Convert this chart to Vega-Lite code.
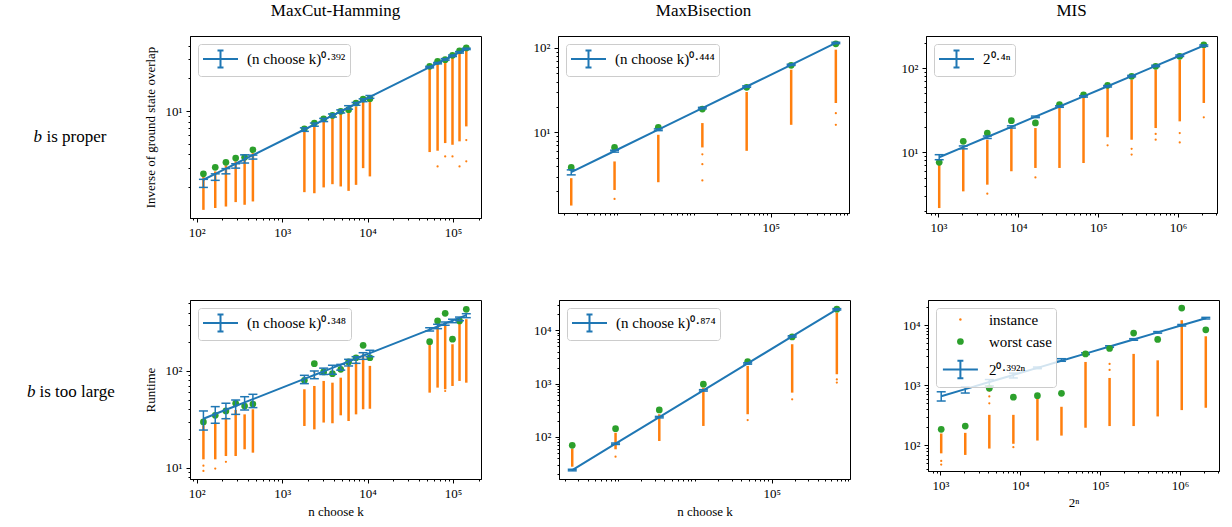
{
"$schema": "https://vega.github.io/schema/vega-lite/v6.json",
"background": "white",
"padding": {"left": 0, "top": 1, "right": 0, "bottom": 0},
"spacing": 3,
"resolve": {"scale": {"color": "independent", "shape": "independent", "size": "independent", "stroke": "independent"}, "legend": {"color": "independent", "shape": "independent", "size": "independent", "stroke": "independent"}},
"config": {
  "font": "Liberation Serif",
  "view": {"stroke": "black", "strokeWidth": 1},
  "axis": {"grid": false, "domainColor": "black", "domainWidth": 1, "tickColor": "black", "tickWidth": 1, "labelColor": "black", "titleColor": "black", "labelFont": "Liberation Serif", "titleFont": "Liberation Serif", "labelFontSize": 13, "titleFontSize": 13, "titleFontWeight": "normal", "labelPadding": 4, "labelFlush": false, "labelOverlap": false},
  "title": {"font": "Liberation Serif", "fontSize": 17, "fontWeight": "normal", "color": "black", "frame": "group", "anchor": "middle", "baseline": "bottom"},
  "legend": {"orient": "top-left", "offset": 8, "padding": 4, "fillColor": "rgba(255,255,255,0.8)", "strokeColor": "#cccccc", "cornerRadius": 3, "labelFont": "Liberation Serif", "labelFontSize": 15, "labelColor": "black", "labelOffset": 15.5, "symbolOffset": 7.5, "rowPadding": 6, "labelLimit": 300},
  "tick": {"opacity": 1},
  "rule": {"opacity": 1},
  "line": {"opacity": 1}
},
"datasets": {
"p1": [
{"k":"i","x":120,"y":1.23,"y2":2.5},{"k":"i","x":165,"y":1.28,"y2":2.78},{"k":"i","x":220,"y":1.32,"y2":3.16},{"k":"i","x":286,"y":1.45,"y2":3.44},{"k":"i","x":364,"y":1.37,"y2":3.56},{"k":"i","x":455,"y":1.47,"y2":4.1},
{"k":"i","x":1820,"y":1.79,"y2":6.5},{"k":"i","x":2380,"y":1.75,"y2":7.22},{"k":"i","x":3060,"y":1.98,"y2":7.93},{"k":"i","x":3876,"y":2.12,"y2":8.62},{"k":"i","x":4845,"y":2.02,"y2":9.38},{"k":"i","x":5985,"y":1.84,"y2":9.59},{"k":"i","x":7315,"y":2.09,"y2":11.0},{"k":"i","x":8855,"y":2.98,"y2":12.1},{"k":"i","x":10626,"y":2.5,"y2":12.3},
{"k":"i","x":53130,"y":4.19,"y2":24.9},{"k":"i","x":65780,"y":4.31,"y2":27.1},{"k":"i","x":80730,"y":5.07,"y2":28.7},{"k":"i","x":98280,"y":4.89,"y2":30.8},{"k":"i","x":118755,"y":5.26,"y2":34.3},{"k":"i","x":142506,"y":7.22,"y2":35.9},
{"k":"o","x":65780,"y":3.09},{"k":"o","x":80730,"y":3.82},{"k":"o","x":98280,"y":3.82},{"k":"o","x":118755,"y":3.09},{"k":"o","x":142506,"y":3.44},{"k":"o","x":142506,"y":5.4},
{"k":"w","x":120,"y":2.64},{"k":"w","x":165,"y":3.03},{"k":"w","x":220,"y":3.37},{"k":"w","x":286,"y":3.69},{"k":"w","x":364,"y":3.75},{"k":"w","x":455,"y":4.4},{"k":"w","x":1820,"y":6.87},{"k":"w","x":2380,"y":7.74},{"k":"w","x":3060,"y":8.49},{"k":"w","x":3876,"y":9.12},{"k":"w","x":4845,"y":9.94},{"k":"w","x":5985,"y":10.3},{"k":"w","x":7315,"y":11.85},{"k":"w","x":8855,"y":12.9},{"k":"w","x":10626,"y":13.0},{"k":"w","x":53130,"y":25.8},{"k":"w","x":65780,"y":28.7},{"k":"w","x":80730,"y":29.7},{"k":"w","x":98280,"y":32.6},{"k":"w","x":118755,"y":35.9},{"k":"w","x":142506,"y":38.1},
{"k":"f","x":120,"y":2.33,"s":"(n choose k)⁰·³⁹²"},{"k":"f","x":165,"y":2.64,"s":"(n choose k)⁰·³⁹²"},{"k":"f","x":220,"y":2.95,"s":"(n choose k)⁰·³⁹²"},{"k":"f","x":286,"y":3.27,"s":"(n choose k)⁰·³⁹²"},{"k":"f","x":364,"y":3.6,"s":"(n choose k)⁰·³⁹²"},{"k":"f","x":455,"y":3.93,"s":"(n choose k)⁰·³⁹²"},{"k":"f","x":1820,"y":6.76,"s":"(n choose k)⁰·³⁹²"},{"k":"f","x":2380,"y":7.51,"s":"(n choose k)⁰·³⁹²"},{"k":"f","x":3060,"y":8.29,"s":"(n choose k)⁰·³⁹²"},{"k":"f","x":3876,"y":9.09,"s":"(n choose k)⁰·³⁹²"},{"k":"f","x":4845,"y":9.92,"s":"(n choose k)⁰·³⁹²"},{"k":"f","x":5985,"y":10.78,"s":"(n choose k)⁰·³⁹²"},{"k":"f","x":7315,"y":11.66,"s":"(n choose k)⁰·³⁹²"},{"k":"f","x":8855,"y":12.57,"s":"(n choose k)⁰·³⁹²"},{"k":"f","x":10626,"y":13.5,"s":"(n choose k)⁰·³⁹²"},{"k":"f","x":53130,"y":25.37,"s":"(n choose k)⁰·³⁹²"},{"k":"f","x":65780,"y":27.58,"s":"(n choose k)⁰·³⁹²"},{"k":"f","x":80730,"y":29.89,"s":"(n choose k)⁰·³⁹²"},{"k":"f","x":98280,"y":32.28,"s":"(n choose k)⁰·³⁹²"},{"k":"f","x":118755,"y":34.77,"s":"(n choose k)⁰·³⁹²"},{"k":"f","x":142506,"y":37.35,"s":"(n choose k)⁰·³⁹²"},
{"k":"e","x":120,"y":1.98,"y2":2.35},{"k":"e","x":165,"y":2.3,"y2":2.64},{"k":"e","x":220,"y":2.64,"y2":2.95},{"k":"e","x":286,"y":2.98,"y2":3.27},{"k":"e","x":364,"y":3.32,"y2":3.95},{"k":"e","x":455,"y":3.61,"y2":3.93},{"k":"e","x":1820,"y":6.5,"y2":7.0},{"k":"e","x":2380,"y":7.25,"y2":7.75},{"k":"e","x":3060,"y":8.0,"y2":8.55},{"k":"e","x":3876,"y":8.8,"y2":9.4},{"k":"e","x":4845,"y":9.6,"y2":10.25},{"k":"e","x":5985,"y":10.4,"y2":11.2},{"k":"e","x":7315,"y":11.3,"y2":12.0},{"k":"e","x":8855,"y":12.2,"y2":12.95},{"k":"e","x":10626,"y":13.1,"y2":13.9},{"k":"e","x":53130,"y":25.0,"y2":25.8},{"k":"e","x":65780,"y":27.2,"y2":28.0},{"k":"e","x":80730,"y":29.4,"y2":30.4},{"k":"e","x":98280,"y":31.8,"y2":32.8},{"k":"e","x":118755,"y":34.2,"y2":35.3},{"k":"e","x":142506,"y":36.8,"y2":37.9},
{"k":"c","x":120,"y":1.98},{"k":"c","x":120,"y":2.35},{"k":"c","x":165,"y":2.3},{"k":"c","x":165,"y":2.64},{"k":"c","x":220,"y":2.64},{"k":"c","x":220,"y":2.95},{"k":"c","x":286,"y":2.98},{"k":"c","x":286,"y":3.27},{"k":"c","x":364,"y":3.32},{"k":"c","x":364,"y":3.95},{"k":"c","x":455,"y":3.61},{"k":"c","x":455,"y":3.93},{"k":"c","x":1820,"y":6.5},{"k":"c","x":1820,"y":7.0},{"k":"c","x":2380,"y":7.25},{"k":"c","x":2380,"y":7.75},{"k":"c","x":3060,"y":8.0},{"k":"c","x":3060,"y":8.55},{"k":"c","x":3876,"y":8.8},{"k":"c","x":3876,"y":9.4},{"k":"c","x":4845,"y":9.6},{"k":"c","x":4845,"y":10.25},{"k":"c","x":5985,"y":10.4},{"k":"c","x":5985,"y":11.2},{"k":"c","x":7315,"y":11.3},{"k":"c","x":7315,"y":12.0},{"k":"c","x":8855,"y":12.2},{"k":"c","x":8855,"y":12.95},{"k":"c","x":10626,"y":13.1},{"k":"c","x":10626,"y":13.9},{"k":"c","x":53130,"y":25.0},{"k":"c","x":53130,"y":25.8},{"k":"c","x":65780,"y":27.2},{"k":"c","x":65780,"y":28.0},{"k":"c","x":80730,"y":29.4},{"k":"c","x":80730,"y":30.4},{"k":"c","x":98280,"y":31.8},{"k":"c","x":98280,"y":32.8},{"k":"c","x":118755,"y":34.2},{"k":"c","x":118755,"y":35.3},{"k":"c","x":142506,"y":36.8},{"k":"c","x":142506,"y":37.9}
],
"p2": [
{"k":"i","x":252,"y":1.36,"y2":2.87},{"k":"i","x":924,"y":2.08,"y2":4.53},{"k":"i","x":3432,"y":2.57,"y2":9.37},{"k":"i","x":12870,"y":6.64,"y2":12.9},{"k":"i","x":48620,"y":6.05,"y2":30.1},{"k":"i","x":184756,"y":12.3,"y2":55.3},{"k":"i","x":705432,"y":22.3,"y2":95.5},
{"k":"o","x":924,"y":1.63},{"k":"o","x":12870,"y":5.5},{"k":"o","x":12870,"y":4.2},{"k":"o","x":12870,"y":2.7},{"k":"o","x":705432,"y":16.9},{"k":"o","x":705432,"y":12.3},
{"k":"w","x":252,"y":3.85},{"k":"w","x":924,"y":6.64},{"k":"w","x":3432,"y":11.5},{"k":"w","x":12870,"y":18.9},{"k":"w","x":48620,"y":34.2},{"k":"w","x":184756,"y":62.4},{"k":"w","x":705432,"y":112},
{"k":"f","x":252,"y":3.38,"s":"(n choose k)⁰·⁴⁴⁴"},{"k":"f","x":924,"y":6.02,"s":"(n choose k)⁰·⁴⁴⁴"},{"k":"f","x":3432,"y":10.78,"s":"(n choose k)⁰·⁴⁴⁴"},{"k":"f","x":12870,"y":19.39,"s":"(n choose k)⁰·⁴⁴⁴"},{"k":"f","x":48620,"y":34.97,"s":"(n choose k)⁰·⁴⁴⁴"},{"k":"f","x":184756,"y":63.26,"s":"(n choose k)⁰·⁴⁴⁴"},{"k":"f","x":705432,"y":114.7,"s":"(n choose k)⁰·⁴⁴⁴"},
{"k":"e","x":252,"y":3.14,"y2":3.6},{"k":"e","x":924,"y":5.84,"y2":6.15},{"k":"e","x":3432,"y":10.5,"y2":11.0},{"k":"e","x":12870,"y":19.0,"y2":19.8},{"k":"e","x":48620,"y":34.3,"y2":35.6},{"k":"e","x":184756,"y":62.2,"y2":64.3},{"k":"e","x":705432,"y":112.5,"y2":116.9},
{"k":"c","x":252,"y":3.14},{"k":"c","x":252,"y":3.6},{"k":"c","x":924,"y":5.84},{"k":"c","x":924,"y":6.15},{"k":"c","x":3432,"y":10.5},{"k":"c","x":3432,"y":11.0},{"k":"c","x":12870,"y":19.0},{"k":"c","x":12870,"y":19.8},{"k":"c","x":48620,"y":34.3},{"k":"c","x":48620,"y":35.6},{"k":"c","x":184756,"y":62.2},{"k":"c","x":184756,"y":64.3},{"k":"c","x":705432,"y":112.5},{"k":"c","x":705432,"y":116.9}
],
"p3": [
{"k":"i","x":1024,"y":2.18,"y2":7.1},{"k":"i","x":2048,"y":3.44,"y2":11.8},{"k":"i","x":4096,"y":4.13,"y2":14.1},{"k":"i","x":8192,"y":5.96,"y2":20.3},{"k":"i","x":16384,"y":6.52,"y2":19.4},{"k":"i","x":32768,"y":6.52,"y2":33.6},{"k":"i","x":65536,"y":7.46,"y2":44.1},{"k":"i","x":131072,"y":15.1,"y2":57.9},{"k":"i","x":262144,"y":14.1,"y2":72.6},{"k":"i","x":524288,"y":19.4,"y2":95.5},{"k":"i","x":1048576,"y":23.3,"y2":125},{"k":"i","x":2097152,"y":38.5,"y2":172.6},
{"k":"o","x":4096,"y":3.23},{"k":"o","x":16384,"y":5.04},{"k":"o","x":131072,"y":12.1},{"k":"o","x":262144,"y":11.0},{"k":"o","x":262144,"y":9.4},{"k":"o","x":524288,"y":16.5},{"k":"o","x":524288,"y":14.1},{"k":"o","x":1048576,"y":16.9},{"k":"o","x":1048576,"y":13.1},{"k":"o","x":2097152,"y":26.0},
{"k":"w","x":1024,"y":7.6},{"k":"w","x":2048,"y":13.5},{"k":"w","x":4096,"y":16.9},{"k":"w","x":8192,"y":23.7},{"k":"w","x":16384,"y":22.3},{"k":"w","x":32768,"y":36.7},{"k":"w","x":65536,"y":48.2},{"k":"w","x":131072,"y":62.4},{"k":"w","x":262144,"y":79.8},{"k":"w","x":524288,"y":104.7},{"k":"w","x":1048576,"y":137.6},{"k":"w","x":2097152,"y":188.8},
{"k":"f","x":1024,"y":8.73,"s":"2⁰·⁴ⁿ"},{"k":"f","x":2048,"y":11.52,"s":"2⁰·⁴ⁿ"},{"k":"f","x":4096,"y":15.2,"s":"2⁰·⁴ⁿ"},{"k":"f","x":8192,"y":20.06,"s":"2⁰·⁴ⁿ"},{"k":"f","x":16384,"y":26.46,"s":"2⁰·⁴ⁿ"},{"k":"f","x":32768,"y":34.92,"s":"2⁰·⁴ⁿ"},{"k":"f","x":65536,"y":46.07,"s":"2⁰·⁴ⁿ"},{"k":"f","x":131072,"y":60.8,"s":"2⁰·⁴ⁿ"},{"k":"f","x":262144,"y":80.23,"s":"2⁰·⁴ⁿ"},{"k":"f","x":524288,"y":105.85,"s":"2⁰·⁴ⁿ"},{"k":"f","x":1048576,"y":139.7,"s":"2⁰·⁴ⁿ"},{"k":"f","x":2097152,"y":184.3,"s":"2⁰·⁴ⁿ"},
{"k":"e","x":1024,"y":8.17,"y2":9.37},{"k":"e","x":2048,"y":11.0,"y2":11.9},{"k":"e","x":4096,"y":14.6,"y2":15.6},{"k":"e","x":8192,"y":19.4,"y2":20.6},{"k":"e","x":16384,"y":25.8,"y2":26.9},{"k":"e","x":32768,"y":34.2,"y2":35.6},{"k":"e","x":65536,"y":45.2,"y2":47.0},{"k":"e","x":131072,"y":59.6,"y2":62.0},{"k":"e","x":262144,"y":78.6,"y2":81.8},{"k":"e","x":524288,"y":103.8,"y2":108},{"k":"e","x":1048576,"y":137,"y2":142.5},{"k":"e","x":2097152,"y":180.7,"y2":188},
{"k":"c","x":1024,"y":8.17},{"k":"c","x":1024,"y":9.37},{"k":"c","x":2048,"y":11.0},{"k":"c","x":2048,"y":11.9},{"k":"c","x":4096,"y":14.6},{"k":"c","x":4096,"y":15.6},{"k":"c","x":8192,"y":19.4},{"k":"c","x":8192,"y":20.6},{"k":"c","x":16384,"y":25.8},{"k":"c","x":16384,"y":26.9},{"k":"c","x":32768,"y":34.2},{"k":"c","x":32768,"y":35.6},{"k":"c","x":65536,"y":45.2},{"k":"c","x":65536,"y":47.0},{"k":"c","x":131072,"y":59.6},{"k":"c","x":131072,"y":62.0},{"k":"c","x":262144,"y":78.6},{"k":"c","x":262144,"y":81.8},{"k":"c","x":524288,"y":103.8},{"k":"c","x":524288,"y":108},{"k":"c","x":1048576,"y":137},{"k":"c","x":1048576,"y":142.5},{"k":"c","x":2097152,"y":180.7},{"k":"c","x":2097152,"y":188}
],
"p4": [
{"k":"i","x":120,"y":12.2,"y2":27.4},{"k":"i","x":165,"y":12.2,"y2":29.3},{"k":"i","x":220,"y":13.2,"y2":32.9},{"k":"i","x":286,"y":13.2,"y2":39.5},{"k":"i","x":364,"y":15.5,"y2":35.6},{"k":"i","x":455,"y":14.3,"y2":40.2},
{"k":"i","x":1820,"y":27.0,"y2":64.7},{"k":"i","x":2380,"y":24.9,"y2":70},{"k":"i","x":3060,"y":29.3,"y2":78.9},{"k":"i","x":3876,"y":28.8,"y2":75.7},{"k":"i","x":4845,"y":34.8,"y2":85.3},{"k":"i","x":5985,"y":30.4,"y2":112.7},{"k":"i","x":7315,"y":35.6,"y2":124},{"k":"i","x":8855,"y":40.2,"y2":149},{"k":"i","x":10626,"y":40.7,"y2":113},
{"k":"i","x":53130,"y":59.7,"y2":189},{"k":"i","x":65780,"y":67.3,"y2":292},{"k":"i","x":80730,"y":64.7,"y2":304},{"k":"i","x":98280,"y":70,"y2":189},{"k":"i","x":118755,"y":78.9,"y2":321},{"k":"i","x":142506,"y":75.7,"y2":343},
{"k":"o","x":120,"y":9.25},{"k":"o","x":120,"y":10.5},{"k":"o","x":165,"y":9.8},{"k":"o","x":220,"y":11.5},{"k":"o","x":2380,"y":85},{"k":"o","x":2380,"y":97.7},{"k":"o","x":80730,"y":62.1},
{"k":"w","x":120,"y":29.7},{"k":"w","x":165,"y":34.8},{"k":"w","x":220,"y":38.6},{"k":"w","x":286,"y":46.4},{"k":"w","x":364,"y":43.4},{"k":"w","x":455,"y":45.5},{"k":"w","x":1820,"y":80.2},{"k":"w","x":2380,"y":119},{"k":"w","x":3060,"y":97.7},{"k":"w","x":3876,"y":93.8},{"k":"w","x":4845,"y":104},{"k":"w","x":5985,"y":124},{"k":"w","x":7315,"y":137},{"k":"w","x":8855,"y":184},{"k":"w","x":10626,"y":137},{"k":"w","x":53130,"y":201},{"k":"w","x":65780,"y":329},{"k":"w","x":80730,"y":395},{"k":"w","x":98280,"y":213},{"k":"w","x":118755,"y":329},{"k":"w","x":142506,"y":434},
{"k":"f","x":120,"y":32.1,"s":"(n choose k)⁰·³⁴⁸"},{"k":"f","x":165,"y":35.9,"s":"(n choose k)⁰·³⁴⁸"},{"k":"f","x":220,"y":39.7,"s":"(n choose k)⁰·³⁴⁸"},{"k":"f","x":286,"y":43.5,"s":"(n choose k)⁰·³⁴⁸"},{"k":"f","x":364,"y":47.3,"s":"(n choose k)⁰·³⁴⁸"},{"k":"f","x":455,"y":51.1,"s":"(n choose k)⁰·³⁴⁸"},{"k":"f","x":1820,"y":82.8,"s":"(n choose k)⁰·³⁴⁸"},{"k":"f","x":2380,"y":90.9,"s":"(n choose k)⁰·³⁴⁸"},{"k":"f","x":3060,"y":99.2,"s":"(n choose k)⁰·³⁴⁸"},{"k":"f","x":3876,"y":107.7,"s":"(n choose k)⁰·³⁴⁸"},{"k":"f","x":4845,"y":116.4,"s":"(n choose k)⁰·³⁴⁸"},{"k":"f","x":5985,"y":125.3,"s":"(n choose k)⁰·³⁴⁸"},{"k":"f","x":7315,"y":134.4,"s":"(n choose k)⁰·³⁴⁸"},{"k":"f","x":8855,"y":143.6,"s":"(n choose k)⁰·³⁴⁸"},{"k":"f","x":10626,"y":153.0,"s":"(n choose k)⁰·³⁴⁸"},{"k":"f","x":53130,"y":267.9,"s":"(n choose k)⁰·³⁴⁸"},{"k":"f","x":65780,"y":288.6,"s":"(n choose k)⁰·³⁴⁸"},{"k":"f","x":80730,"y":309.9,"s":"(n choose k)⁰·³⁴⁸"},{"k":"f","x":98280,"y":331.9,"s":"(n choose k)⁰·³⁴⁸"},{"k":"f","x":118755,"y":354.5,"s":"(n choose k)⁰·³⁴⁸"},{"k":"f","x":142506,"y":377.7,"s":"(n choose k)⁰·³⁴⁸"},
{"k":"e","x":120,"y":24.5,"y2":38.6},{"k":"e","x":165,"y":28.8,"y2":42.8},{"k":"e","x":220,"y":32.1,"y2":46.4},{"k":"e","x":286,"y":35.6,"y2":50.1},{"k":"e","x":364,"y":39.5,"y2":54.2},{"k":"e","x":455,"y":41.8,"y2":57.4},{"k":"e","x":1820,"y":74.0,"y2":90.2},{"k":"e","x":2380,"y":83.2,"y2":100},{"k":"e","x":3060,"y":92,"y2":107},{"k":"e","x":3876,"y":92.5,"y2":114.6},{"k":"e","x":4845,"y":102,"y2":117},{"k":"e","x":5985,"y":112.7,"y2":132},{"k":"e","x":7315,"y":120,"y2":140.6},{"k":"e","x":8855,"y":132,"y2":154.5},{"k":"e","x":10626,"y":140.6,"y2":163.7},{"k":"e","x":53130,"y":259,"y2":280},{"k":"e","x":65780,"y":274,"y2":304},{"k":"e","x":80730,"y":297,"y2":321},{"k":"e","x":98280,"y":316,"y2":343},{"k":"e","x":118755,"y":331,"y2":361},{"k":"e","x":142506,"y":356,"y2":391},
{"k":"c","x":120,"y":24.5},{"k":"c","x":120,"y":38.6},{"k":"c","x":165,"y":28.8},{"k":"c","x":165,"y":42.8},{"k":"c","x":220,"y":32.1},{"k":"c","x":220,"y":46.4},{"k":"c","x":286,"y":35.6},{"k":"c","x":286,"y":50.1},{"k":"c","x":364,"y":39.5},{"k":"c","x":364,"y":54.2},{"k":"c","x":455,"y":41.8},{"k":"c","x":455,"y":57.4},{"k":"c","x":1820,"y":74.0},{"k":"c","x":1820,"y":90.2},{"k":"c","x":2380,"y":83.2},{"k":"c","x":2380,"y":100},{"k":"c","x":3060,"y":92},{"k":"c","x":3060,"y":107},{"k":"c","x":3876,"y":92.5},{"k":"c","x":3876,"y":114.6},{"k":"c","x":4845,"y":102},{"k":"c","x":4845,"y":117},{"k":"c","x":5985,"y":112.7},{"k":"c","x":5985,"y":132},{"k":"c","x":7315,"y":120},{"k":"c","x":7315,"y":140.6},{"k":"c","x":8855,"y":132},{"k":"c","x":8855,"y":154.5},{"k":"c","x":10626,"y":140.6},{"k":"c","x":10626,"y":163.7},{"k":"c","x":53130,"y":259},{"k":"c","x":53130,"y":280},{"k":"c","x":65780,"y":274},{"k":"c","x":65780,"y":304},{"k":"c","x":80730,"y":297},{"k":"c","x":80730,"y":321},{"k":"c","x":98280,"y":316},{"k":"c","x":98280,"y":343},{"k":"c","x":118755,"y":331},{"k":"c","x":118755,"y":361},{"k":"c","x":142506,"y":356},{"k":"c","x":142506,"y":391}
],
"p5": [
{"k":"i","x":252,"y":27.7,"y2":60.4},{"k":"i","x":924,"y":58.8,"y2":120},{"k":"i","x":3432,"y":84.1,"y2":267},{"k":"i","x":12870,"y":161,"y2":841},{"k":"i","x":48620,"y":267,"y2":2150},{"k":"i","x":184756,"y":678,"y2":5480},{"k":"i","x":705432,"y":1500,"y2":21480},
{"k":"o","x":924,"y":42.7},{"k":"o","x":48620,"y":208},{"k":"o","x":184756,"y":509},{"k":"o","x":705432,"y":1045},{"k":"o","x":705432,"y":1200},
{"k":"w","x":252,"y":69.8},{"k":"w","x":924,"y":143},{"k":"w","x":3432,"y":321},{"k":"w","x":12870,"y":975},{"k":"w","x":48620,"y":2590},{"k":"w","x":184756,"y":7520},{"k":"w","x":705432,"y":24900},
{"k":"f","x":252,"y":24.0,"s":"(n choose k)⁰·⁸⁷⁴"},{"k":"f","x":924,"y":74.8,"s":"(n choose k)⁰·⁸⁷⁴"},{"k":"f","x":3432,"y":235.6,"s":"(n choose k)⁰·⁸⁷⁴"},{"k":"f","x":12870,"y":747.9,"s":"(n choose k)⁰·⁸⁷⁴"},{"k":"f","x":48620,"y":2389,"s":"(n choose k)⁰·⁸⁷⁴"},{"k":"f","x":184756,"y":7677,"s":"(n choose k)⁰·⁸⁷⁴"},{"k":"f","x":705432,"y":24760,"s":"(n choose k)⁰·⁸⁷⁴"},
{"k":"e","x":252,"y":23.2,"y2":24.8},{"k":"e","x":924,"y":72.5,"y2":77},{"k":"e","x":3432,"y":228,"y2":243},{"k":"e","x":12870,"y":725,"y2":771},{"k":"e","x":48620,"y":2320,"y2":2460},{"k":"e","x":184756,"y":7450,"y2":7900},{"k":"e","x":705432,"y":24000,"y2":25500},
{"k":"c","x":252,"y":23.2},{"k":"c","x":252,"y":24.8},{"k":"c","x":924,"y":72.5},{"k":"c","x":924,"y":77},{"k":"c","x":3432,"y":228},{"k":"c","x":3432,"y":243},{"k":"c","x":12870,"y":725},{"k":"c","x":12870,"y":771},{"k":"c","x":48620,"y":2320},{"k":"c","x":48620,"y":2460},{"k":"c","x":184756,"y":7450},{"k":"c","x":184756,"y":7900},{"k":"c","x":705432,"y":24000},{"k":"c","x":705432,"y":25500}
],
"p6": [
{"k":"i","x":1024,"y":73.5,"y2":157},{"k":"i","x":2048,"y":69.2,"y2":161},{"k":"i","x":4096,"y":88.3,"y2":321},{"k":"i","x":8192,"y":106,"y2":321},{"k":"i","x":16384,"y":120,"y2":593},{"k":"i","x":32768,"y":145,"y2":437},{"k":"i","x":65536,"y":196,"y2":2432},{"k":"i","x":131072,"y":209,"y2":1318},{"k":"i","x":262144,"y":209,"y2":3311},{"k":"i","x":524288,"y":302,"y2":2588},{"k":"i","x":1048576,"y":385,"y2":12020},{"k":"i","x":2097152,"y":421,"y2":6500},
{"k":"o","x":1024,"y":47.9},{"k":"o","x":1024,"y":55},{"k":"o","x":4096,"y":500},{"k":"o","x":4096,"y":650},{"k":"o","x":4096,"y":805},{"k":"o","x":8192,"y":93},{"k":"o","x":131072,"y":1791},{"k":"o","x":131072,"y":2250},
{"k":"w","x":1024,"y":184.5,"s":"worst case"},{"k":"w","x":2048,"y":209,"s":"worst case"},{"k":"w","x":4096,"y":889,"s":"worst case"},{"k":"w","x":8192,"y":631,"s":"worst case"},{"k":"w","x":16384,"y":670,"s":"worst case"},{"k":"w","x":32768,"y":731,"s":"worst case"},{"k":"w","x":65536,"y":3311,"s":"worst case"},{"k":"w","x":131072,"y":4070,"s":"worst case"},{"k":"w","x":262144,"y":7350,"s":"worst case"},{"k":"w","x":524288,"y":5750,"s":"worst case"},{"k":"w","x":1048576,"y":19140,"s":"worst case"},{"k":"w","x":2097152,"y":8320,"s":"worst case"},
{"k":"f","x":1024,"y":655},{"k":"f","x":2048,"y":859},{"k":"f","x":4096,"y":1127},{"k":"f","x":8192,"y":1479},{"k":"f","x":16384,"y":1941},{"k":"f","x":32768,"y":2547},{"k":"f","x":65536,"y":3342},{"k":"f","x":131072,"y":4385},{"k":"f","x":262144,"y":5754},{"k":"f","x":524288,"y":7551},{"k":"f","x":1048576,"y":9908},{"k":"f","x":2097152,"y":13000},
{"k":"e","x":1024,"y":545,"y2":776},{"k":"e","x":2048,"y":740,"y2":933},{"k":"e","x":4096,"y":968,"y2":1240},{"k":"e","x":8192,"y":1318,"y2":1585},{"k":"e","x":16384,"y":1880,"y2":2000},{"k":"e","x":32768,"y":2495,"y2":2754},{"k":"e","x":65536,"y":3230,"y2":3450},{"k":"e","x":131072,"y":4250,"y2":4520},{"k":"e","x":262144,"y":5580,"y2":5930},{"k":"e","x":524288,"y":7330,"y2":7780},{"k":"e","x":1048576,"y":9600,"y2":10200},{"k":"e","x":2097152,"y":12600,"y2":13400},
{"k":"c","x":1024,"y":545},{"k":"c","x":1024,"y":776},{"k":"c","x":2048,"y":740},{"k":"c","x":2048,"y":933},{"k":"c","x":4096,"y":968},{"k":"c","x":4096,"y":1240},{"k":"c","x":8192,"y":1318},{"k":"c","x":8192,"y":1585},{"k":"c","x":16384,"y":1880},{"k":"c","x":16384,"y":2000},{"k":"c","x":32768,"y":2495},{"k":"c","x":32768,"y":2754},{"k":"c","x":65536,"y":3230},{"k":"c","x":65536,"y":3450},{"k":"c","x":131072,"y":4250},{"k":"c","x":131072,"y":4520},{"k":"c","x":262144,"y":5580},{"k":"c","x":262144,"y":5930},{"k":"c","x":524288,"y":7330},{"k":"c","x":524288,"y":7780},{"k":"c","x":1048576,"y":9600},{"k":"c","x":1048576,"y":10200},{"k":"c","x":2097152,"y":12600},{"k":"c","x":2097152,"y":13400}
]
},
"hconcat": [
{"vconcat": [
  {"width": 140, "height": 202, "view": {"stroke": null}, "data": {"values": [{"a": "b", "b": "is proper"}]}, "layer": [
    {"mark": {"type": "text", "fontSize": 17, "fontStyle": "italic", "align": "right", "baseline": "middle", "dx": -28}, "encoding": {"text": {"field": "a"}}},
    {"mark": {"type": "text", "fontSize": 17, "align": "left", "baseline": "middle", "dx": -23.5}, "encoding": {"text": {"field": "b"}}}
  ]},
  {"width": 140, "height": 240, "view": {"stroke": null}, "data": {"values": [{"a": "b", "b": "is too large"}]}, "layer": [
    {"mark": {"type": "text", "fontSize": 17, "fontStyle": "italic", "align": "right", "baseline": "middle", "dx": -34.5}, "encoding": {"text": {"field": "a"}}},
    {"mark": {"type": "text", "fontSize": 17, "align": "left", "baseline": "middle", "dx": -30.5}, "encoding": {"text": {"field": "b"}}}
  ]}
], "spacing": 34},
{"vconcat": [
 {"hconcat": [
  {"width": 291, "height": 182, "title": {"text": "MaxCut-Hamming", "offset": 16}, "data": {"name": "p1"},
   "encoding": {
    "x": {"field": "x", "type": "quantitative", "scale": {"type": "log", "domain": [83.6, 211800], "nice": false}, "axis": {"title": null, "values": [90,100,200,300,400,500,600,700,800,900,1000,2000,3000,4000,5000,6000,7000,8000,9000,10000,20000,30000,40000,50000,60000,70000,80000,90000,100000,200000], "labelExpr": "abs(log(datum.value)/LN10-round(log(datum.value)/LN10))<0.001?'10'+['⁰','¹','²','³','⁴','⁵','⁶','⁷'][round(log(datum.value)/LN10)]:''", "tickSize": {"condition": {"test": "abs(log(datum.value)/LN10-round(log(datum.value)/LN10))<0.001", "value": 4}, "value": 2}}},
    "y": {"field": "y", "type": "quantitative", "scale": {"type": "log", "domain": [1.035, 49.1], "nice": false}, "axis": {"title": "Inverse of ground state overlap", "titlePadding": 8, "values": [2,3,4,5,6,7,8,9,10,20,30,40], "labelExpr": "abs(log(datum.value)/LN10-round(log(datum.value)/LN10))<0.001?'10'+['⁰','¹','²','³','⁴','⁵','⁶','⁷'][round(log(datum.value)/LN10)]:''", "tickSize": {"condition": {"test": "abs(log(datum.value)/LN10-round(log(datum.value)/LN10))<0.001", "value": 4}, "value": 2}}}
   },
   "layer": [
    {"transform": [{"filter": "datum.k=='i'"}], "mark": {"type": "rule", "color": "#ff7f0e", "strokeWidth": 2.5}, "encoding": {"y2": {"field": "y2"}}},
    {"transform": [{"filter": "datum.k=='o'"}], "mark": {"type": "point", "filled": true, "color": "#ff7f0e", "size": 5, "opacity": 1}},
    {"transform": [{"filter": "datum.k=='w'"}], "mark": {"type": "point", "filled": true, "color": "#2ca02c", "size": 45, "opacity": 1}},
    {"transform": [{"filter": "datum.k=='f'"}], "mark": {"type": "line", "strokeWidth": 2}, "encoding": {"color": {"field": "s", "type": "nominal", "scale": {"range": ["#1f77b4"]}, "legend": {"title": null, "symbolType": "M-1.75,0H1.75M0,-0.85V0.85M-0.3,-0.85H0.3M-0.3,0.85H0.3", "symbolSize": 400, "symbolStrokeWidth": 2, "symbolStrokeColor": "#1f77b4"}}}},
    {"transform": [{"filter": "datum.k=='e'"}], "mark": {"type": "rule", "color": "#1f77b4", "strokeWidth": 1.5}, "encoding": {"y2": {"field": "y2"}}},
    {"transform": [{"filter": "datum.k=='c'"}], "mark": {"type": "tick", "orient": "horizontal", "color": "#1f77b4", "size": 9, "thickness": 1.5}}
   ]},
  {"width": 291, "height": 177, "title": {"text": "MaxBisection", "offset": 16}, "data": {"name": "p2"},
   "encoding": {
    "x": {"field": "x", "type": "quantitative", "scale": {"type": "log", "domain": [169.4, 1047000], "nice": false}, "axis": {"title": null, "values": [200,300,400,500,600,700,800,900,1000,2000,3000,4000,5000,6000,7000,8000,9000,10000,20000,30000,40000,50000,60000,70000,80000,90000,100000,200000,300000,400000,500000,600000,700000,800000,900000,1000000], "labelExpr": "datum.value==100000?'10⁵':''", "tickSize": {"condition": {"test": "datum.value==100000", "value": 4}, "value": 2}}},
    "y": {"field": "y", "type": "quantitative", "scale": {"type": "log", "domain": [1.11, 138.7], "nice": false}, "axis": {"title": null, "values": [2,3,4,5,6,7,8,9,10,20,30,40,50,60,70,80,90,100], "labelExpr": "abs(log(datum.value)/LN10-round(log(datum.value)/LN10))<0.001?'10'+['⁰','¹','²','³','⁴','⁵','⁶','⁷'][round(log(datum.value)/LN10)]:''", "tickSize": {"condition": {"test": "abs(log(datum.value)/LN10-round(log(datum.value)/LN10))<0.001", "value": 4}, "value": 2}}}
   },
   "layer": [
    {"transform": [{"filter": "datum.k=='i'"}], "mark": {"type": "rule", "color": "#ff7f0e", "strokeWidth": 2.5}, "encoding": {"y2": {"field": "y2"}}},
    {"transform": [{"filter": "datum.k=='o'"}], "mark": {"type": "point", "filled": true, "color": "#ff7f0e", "size": 5, "opacity": 1}},
    {"transform": [{"filter": "datum.k=='w'"}], "mark": {"type": "point", "filled": true, "color": "#2ca02c", "size": 45, "opacity": 1}},
    {"transform": [{"filter": "datum.k=='f'"}], "mark": {"type": "line", "strokeWidth": 2}, "encoding": {"color": {"field": "s", "type": "nominal", "scale": {"range": ["#1f77b4"]}, "legend": {"title": null, "symbolType": "M-1.75,0H1.75M0,-0.85V0.85M-0.3,-0.85H0.3M-0.3,0.85H0.3", "symbolSize": 400, "symbolStrokeWidth": 2, "symbolStrokeColor": "#1f77b4"}}}},
    {"transform": [{"filter": "datum.k=='e'"}], "mark": {"type": "rule", "color": "#1f77b4", "strokeWidth": 1.5}, "encoding": {"y2": {"field": "y2"}}},
    {"transform": [{"filter": "datum.k=='c'"}], "mark": {"type": "tick", "orient": "horizontal", "color": "#1f77b4", "size": 9, "thickness": 1.5}}
   ]},
  {"width": 291, "height": 177, "title": {"text": "MIS", "offset": 16}, "data": {"name": "p3"},
   "encoding": {
    "x": {"field": "x", "type": "quantitative", "scale": {"type": "log", "domain": [699.8, 3069000], "nice": false}, "axis": {"title": null, "values": [800,900,1000,2000,3000,4000,5000,6000,7000,8000,9000,10000,20000,30000,40000,50000,60000,70000,80000,90000,100000,200000,300000,400000,500000,600000,700000,800000,900000,1000000,2000000,3000000], "labelExpr": "abs(log(datum.value)/LN10-round(log(datum.value)/LN10))<0.001?'10'+['⁰','¹','²','³','⁴','⁵','⁶','⁷'][round(log(datum.value)/LN10)]:''", "tickSize": {"condition": {"test": "abs(log(datum.value)/LN10-round(log(datum.value)/LN10))<0.001", "value": 4}, "value": 2}}},
    "y": {"field": "y", "type": "quantitative", "scale": {"type": "log", "domain": [1.905, 239.9], "nice": false}, "axis": {"title": null, "values": [2,3,4,5,6,7,8,9,10,20,30,40,50,60,70,80,90,100,200], "labelExpr": "abs(log(datum.value)/LN10-round(log(datum.value)/LN10))<0.001?'10'+['⁰','¹','²','³','⁴','⁵','⁶','⁷'][round(log(datum.value)/LN10)]:''", "tickSize": {"condition": {"test": "abs(log(datum.value)/LN10-round(log(datum.value)/LN10))<0.001", "value": 4}, "value": 2}}}
   },
   "layer": [
    {"transform": [{"filter": "datum.k=='i'"}], "mark": {"type": "rule", "color": "#ff7f0e", "strokeWidth": 2.5}, "encoding": {"y2": {"field": "y2"}}},
    {"transform": [{"filter": "datum.k=='o'"}], "mark": {"type": "point", "filled": true, "color": "#ff7f0e", "size": 5, "opacity": 1}},
    {"transform": [{"filter": "datum.k=='w'"}], "mark": {"type": "point", "filled": true, "color": "#2ca02c", "size": 45, "opacity": 1}},
    {"transform": [{"filter": "datum.k=='f'"}], "mark": {"type": "line", "strokeWidth": 2}, "encoding": {"color": {"field": "s", "type": "nominal", "scale": {"range": ["#1f77b4"]}, "legend": {"title": null, "symbolType": "M-1.75,0H1.75M0,-0.85V0.85M-0.3,-0.85H0.3M-0.3,0.85H0.3", "symbolSize": 400, "symbolStrokeWidth": 2, "symbolStrokeColor": "#1f77b4"}}}},
    {"transform": [{"filter": "datum.k=='e'"}], "mark": {"type": "rule", "color": "#1f77b4", "strokeWidth": 1.5}, "encoding": {"y2": {"field": "y2"}}},
    {"transform": [{"filter": "datum.k=='c'"}], "mark": {"type": "tick", "orient": "horizontal", "color": "#1f77b4", "size": 9, "thickness": 1.5}}
   ]}
 ], "spacing": 50, "resolve": {"scale": {"color": "independent", "shape": "independent", "size": "independent", "stroke": "independent"}, "legend": {"color": "independent", "shape": "independent", "size": "independent", "stroke": "independent"}}},
 {"hconcat": [
  {"width": 291, "height": 179, "data": {"name": "p4"},
   "encoding": {
    "x": {"field": "x", "type": "quantitative", "scale": {"type": "log", "domain": [83.6, 211800], "nice": false}, "axis": {"title": "n choose k", "titlePadding": 5, "values": [90,100,200,300,400,500,600,700,800,900,1000,2000,3000,4000,5000,6000,7000,8000,9000,10000,20000,30000,40000,50000,60000,70000,80000,90000,100000,200000], "labelExpr": "abs(log(datum.value)/LN10-round(log(datum.value)/LN10))<0.001?'10'+['⁰','¹','²','³','⁴','⁵','⁶','⁷'][round(log(datum.value)/LN10)]:''", "tickSize": {"condition": {"test": "abs(log(datum.value)/LN10-round(log(datum.value)/LN10))<0.001", "value": 4}, "value": 2}}},
    "y": {"field": "y", "type": "quantitative", "scale": {"type": "log", "domain": [7.64, 542], "nice": false}, "axis": {"title": "Runtime", "titlePadding": 8, "values": [8,9,10,20,30,40,50,60,70,80,90,100,200,300,400,500], "labelExpr": "abs(log(datum.value)/LN10-round(log(datum.value)/LN10))<0.001?'10'+['⁰','¹','²','³','⁴','⁵','⁶','⁷'][round(log(datum.value)/LN10)]:''", "tickSize": {"condition": {"test": "abs(log(datum.value)/LN10-round(log(datum.value)/LN10))<0.001", "value": 4}, "value": 2}}}
   },
   "layer": [
    {"transform": [{"filter": "datum.k=='i'"}], "mark": {"type": "rule", "color": "#ff7f0e", "strokeWidth": 2.5}, "encoding": {"y2": {"field": "y2"}}},
    {"transform": [{"filter": "datum.k=='o'"}], "mark": {"type": "point", "filled": true, "color": "#ff7f0e", "size": 5, "opacity": 1}},
    {"transform": [{"filter": "datum.k=='w'"}], "mark": {"type": "point", "filled": true, "color": "#2ca02c", "size": 45, "opacity": 1}},
    {"transform": [{"filter": "datum.k=='f'"}], "mark": {"type": "line", "strokeWidth": 2}, "encoding": {"color": {"field": "s", "type": "nominal", "scale": {"range": ["#1f77b4"]}, "legend": {"title": null, "symbolType": "M-1.75,0H1.75M0,-0.85V0.85M-0.3,-0.85H0.3M-0.3,0.85H0.3", "symbolSize": 400, "symbolStrokeWidth": 2, "symbolStrokeColor": "#1f77b4"}}}},
    {"transform": [{"filter": "datum.k=='e'"}], "mark": {"type": "rule", "color": "#1f77b4", "strokeWidth": 1.5}, "encoding": {"y2": {"field": "y2"}}},
    {"transform": [{"filter": "datum.k=='c'"}], "mark": {"type": "tick", "orient": "horizontal", "color": "#1f77b4", "size": 9, "thickness": 1.5}}
   ]},
  {"width": 291, "height": 179, "data": {"name": "p5"},
   "encoding": {
    "x": {"field": "x", "type": "quantitative", "scale": {"type": "log", "domain": [169.4, 1047000], "nice": false}, "axis": {"title": "n choose k", "titlePadding": 5, "values": [200,300,400,500,600,700,800,900,1000,2000,3000,4000,5000,6000,7000,8000,9000,10000,20000,30000,40000,50000,60000,70000,80000,90000,100000,200000,300000,400000,500000,600000,700000,800000,900000,1000000], "labelExpr": "datum.value==100000?'10⁵':''", "tickSize": {"condition": {"test": "datum.value==100000", "value": 4}, "value": 2}}},
    "y": {"field": "y", "type": "quantitative", "scale": {"type": "log", "domain": [16.3, 36980], "nice": false}, "axis": {"title": null, "values": [20,30,40,50,60,70,80,90,100,200,300,400,500,600,700,800,900,1000,2000,3000,4000,5000,6000,7000,8000,9000,10000,20000,30000], "labelExpr": "abs(log(datum.value)/LN10-round(log(datum.value)/LN10))<0.001?'10'+['⁰','¹','²','³','⁴','⁵','⁶','⁷'][round(log(datum.value)/LN10)]:''", "tickSize": {"condition": {"test": "abs(log(datum.value)/LN10-round(log(datum.value)/LN10))<0.001", "value": 4}, "value": 2}}}
   },
   "layer": [
    {"transform": [{"filter": "datum.k=='i'"}], "mark": {"type": "rule", "color": "#ff7f0e", "strokeWidth": 2.5}, "encoding": {"y2": {"field": "y2"}}},
    {"transform": [{"filter": "datum.k=='o'"}], "mark": {"type": "point", "filled": true, "color": "#ff7f0e", "size": 5, "opacity": 1}},
    {"transform": [{"filter": "datum.k=='w'"}], "mark": {"type": "point", "filled": true, "color": "#2ca02c", "size": 45, "opacity": 1}},
    {"transform": [{"filter": "datum.k=='f'"}], "mark": {"type": "line", "strokeWidth": 2}, "encoding": {"color": {"field": "s", "type": "nominal", "scale": {"range": ["#1f77b4"]}, "legend": {"title": null, "symbolType": "M-1.75,0H1.75M0,-0.85V0.85M-0.3,-0.85H0.3M-0.3,0.85H0.3", "symbolSize": 400, "symbolStrokeWidth": 2, "symbolStrokeColor": "#1f77b4"}}}},
    {"transform": [{"filter": "datum.k=='e'"}], "mark": {"type": "rule", "color": "#1f77b4", "strokeWidth": 1.5}, "encoding": {"y2": {"field": "y2"}}},
    {"transform": [{"filter": "datum.k=='c'"}], "mark": {"type": "tick", "orient": "horizontal", "color": "#1f77b4", "size": 9, "thickness": 1.5}}
   ]},
  {"width": 291, "height": 171, "data": {"name": "p6"},
   "encoding": {
    "x": {"field": "x", "type": "quantitative", "scale": {"type": "log", "domain": [699.8, 3069000], "nice": false}, "axis": {"title": "2ⁿ", "titlePadding": 4, "values": [800,900,1000,2000,3000,4000,5000,6000,7000,8000,9000,10000,20000,30000,40000,50000,60000,70000,80000,90000,100000,200000,300000,400000,500000,600000,700000,800000,900000,1000000,2000000,3000000], "labelExpr": "abs(log(datum.value)/LN10-round(log(datum.value)/LN10))<0.001?'10'+['⁰','¹','²','³','⁴','⁵','⁶','⁷'][round(log(datum.value)/LN10)]:''", "tickSize": {"condition": {"test": "abs(log(datum.value)/LN10-round(log(datum.value)/LN10))<0.001", "value": 4}, "value": 2}}},
    "y": {"field": "y", "type": "quantitative", "scale": {"type": "log", "domain": [37.4, 26060], "nice": false}, "axis": {"title": null, "values": [40,50,60,70,80,90,100,200,300,400,500,600,700,800,900,1000,2000,3000,4000,5000,6000,7000,8000,9000,10000,20000], "labelExpr": "abs(log(datum.value)/LN10-round(log(datum.value)/LN10))<0.001?'10'+['⁰','¹','²','³','⁴','⁵','⁶','⁷'][round(log(datum.value)/LN10)]:''", "tickSize": {"condition": {"test": "abs(log(datum.value)/LN10-round(log(datum.value)/LN10))<0.001", "value": 4}, "value": 2}}}
   },
   "layer": [
    {"transform": [{"filter": "datum.k=='i'"}], "mark": {"type": "rule", "color": "#ff7f0e", "strokeWidth": 2.5}, "encoding": {"y2": {"field": "y2"}}},
    {"transform": [{"filter": "datum.k=='o'"}], "mark": {"type": "point", "filled": true, "color": "#ff7f0e", "size": 5, "opacity": 1}},
    {"transform": [{"filter": "datum.k=='f'"}], "mark": {"type": "line", "strokeWidth": 2, "color": "#1f77b4"}, "encoding": {}},
    {"transform": [{"filter": "datum.k=='e'"}], "mark": {"type": "rule", "color": "#1f77b4", "strokeWidth": 1.5}, "encoding": {"y2": {"field": "y2"}}},
    {"transform": [{"filter": "datum.k=='c'"}], "mark": {"type": "tick", "orient": "horizontal", "color": "#1f77b4", "size": 9, "thickness": 1.5}},
    {"transform": [{"filter": "datum.k=='w'"}], "mark": {"type": "point", "filled": true, "opacity": 1},
     "encoding": {
      "color": {"field": "s", "type": "nominal", "scale": {"domain": ["instance", "worst case", "2⁰·³⁹²ⁿ"], "range": ["#ff7f0e", "#2ca02c", "#1f77b4"]}, "legend": {"title": null, "labelOffset": 21, "symbolOffset": 12.9, "rowPadding": 6, "symbolStrokeWidth": 2}},
      "stroke": {"field": "s", "type": "nominal", "scale": {"domain": ["instance", "worst case", "2⁰·³⁹²ⁿ"], "range": ["transparent", "transparent", "#1f77b4"]}, "legend": {"title": null, "labelOffset": 21, "symbolOffset": 12.9, "rowPadding": 6, "symbolStrokeWidth": 2}},
      "shape": {"field": "s", "type": "nominal", "scale": {"domain": ["instance", "worst case", "2⁰·³⁹²ⁿ"], "range": ["circle", "circle", "M-3.82,0H3.82M0,-1.9V1.9M-0.65,-1.9H0.65M-0.65,1.9H0.65"]}, "legend": {"title": null, "labelOffset": 21, "symbolOffset": 12.9, "rowPadding": 6, "symbolStrokeWidth": 2}},
      "size": {"field": "s", "type": "nominal", "scale": {"type": "point", "padding": 0, "domain": ["instance", "worst case", "2⁰·³⁹²ⁿ"], "range": [6, 84]}, "legend": {"title": null, "labelOffset": 21, "symbolOffset": 12.9, "rowPadding": 6, "symbolStrokeWidth": 2}}
     }}
   ]}
 ], "spacing": 50, "resolve": {"scale": {"color": "independent", "shape": "independent", "size": "independent", "stroke": "independent"}, "legend": {"color": "independent", "shape": "independent", "size": "independent", "stroke": "independent"}}}
], "spacing": 56, "resolve": {"scale": {"color": "independent", "shape": "independent", "size": "independent", "stroke": "independent"}, "legend": {"color": "independent", "shape": "independent", "size": "independent", "stroke": "independent"}}}
]
}
